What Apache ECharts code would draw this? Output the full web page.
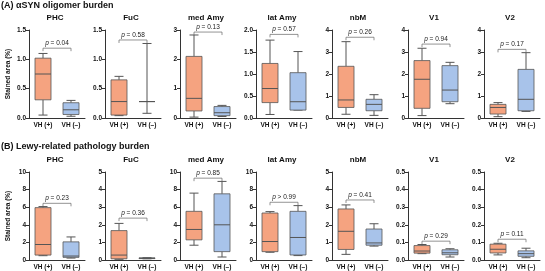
<!DOCTYPE html>
<html>
<head>
<meta charset="utf-8">
<script src="https://cdn.jsdelivr.net/npm/echarts@6/dist/echarts.min.js"></script>
<style>
  html, body { margin: 0; padding: 0; background: #fff; }
  #chart { width: 545px; height: 271px; }
</style>
</head>
<body>
<div id="chart"></div>
<script>
// regions + groups
const regions = ['PHC', 'FuC', 'med Amy', 'lat Amy', 'nbM', 'V1', 'V2'];
const groups = ['VH (+)', 'VH (\u2013)'];

// each box: [min, q1, median, q3, max]
// (A) aSYN oligomer burden
const oligoPos = [
  [0.05, 0.31, 0.75, 1.02, 1.10],
  [0.04, 0.05, 0.28, 0.65, 0.71],
  [0.03, 0.24, 0.67, 2.10, 2.83],
  [0.08, 0.35, 0.67, 1.24, 1.77],
  [0.17, 0.48, 0.82, 2.35, 3.47],
  [0.11, 0.44, 1.76, 2.61, 3.17],
  [0.06, 0.18, 0.48, 0.62, 0.70]
];
const oligoNeg = [
  [0.03, 0.06, 0.14, 0.26, 0.30],
  [0.08, 0.28, 0.28, 0.28, 1.27],
  [0.05, 0.08, 0.18, 0.39, 0.43],
  [0.18, 0.18, 0.37, 1.03, 1.51],
  [0.12, 0.33, 0.62, 0.85, 1.06],
  [0.65, 0.74, 1.27, 2.38, 2.53],
  [0.30, 0.33, 0.85, 2.21, 2.97]
];
const oligoMax = [1.5, 1.5, 3, 2, 4, 4, 4];
const oligoStep = [0.5, 0.5, 1, 0.5, 1, 1, 1];
const oligoBracket = [1.19, 1.33, 2.93, 1.90, 3.67, 3.36, 3.12];
const oligoP = ['= 0.04', '= 0.58', '= 0.13', '= 0.57', '= 0.26', '= 0.94', '= 0.17'];

// (B) Lewy-related pathology burden
const lewyPos = [
  [0.49, 0.56, 1.76, 5.95, 6.07],
  [0.04, 0.07, 0.28, 1.67, 2.08],
  [1.68, 2.29, 3.47, 5.53, 7.60],
  [0.88, 0.95, 2.10, 5.34, 5.50],
  [0.32, 0.60, 1.63, 2.90, 3.13],
  [0.036, 0.039, 0.051, 0.082, 0.088],
  [0.029, 0.040, 0.061, 0.090, 0.095]
];
const lewyNeg = [
  [0.22, 0.30, 0.45, 2.06, 2.62],
  [0.07, 0.08, 0.10, 0.12, 0.13],
  [0.34, 0.95, 4.00, 7.52, 8.93],
  [0.50, 0.57, 2.56, 5.53, 6.18],
  [0.79, 0.84, 0.97, 1.76, 2.06],
  [0.017, 0.030, 0.041, 0.058, 0.064],
  [0.013, 0.021, 0.036, 0.052, 0.067]
];
const lewyMax = [10, 5, 10, 10, 5, 0.5, 0.5];
const lewyStep = [2, 1, 2, 2, 1, 0.1, 0.1];
const lewyBracket = [6.44, 2.38, 9.3, 6.56, 3.41, 0.107, 0.118];
const lewyP = ['= 0.23', '= 0.36', '= 0.85', '> 0.99', '= 0.41', '= 0.29', '= 0.11'];

const FONT = 'Liberation Sans, Arial, sans-serif';
const ORANGE = '#f5a380';
const BLUE = '#a8c3ea';
const EDGE = '#555';
const AXIS = '#333';

const lefts = [29, 105, 180, 256, 332, 408, 484];
const gridW = 56;
const rows = [
  { top: 30, height: 88, name: '(A) \u03b1SYN oligomer burden', titleTop: 1, panelTop: 14,
    pos: oligoPos, neg: oligoNeg, max: oligoMax, step: oligoStep, bracket: oligoBracket, p: oligoP },
  { top: 172, height: 89, name: '(B) Lewy-related pathology burden', titleTop: 142, panelTop: 156,
    pos: lewyPos, neg: lewyNeg, max: lewyMax, step: lewyStep, bracket: lewyBracket, p: lewyP }
];

function renderBox(params, api) {
  var cat = api.value(0);
  var pMin = api.coord([cat, api.value(1)]);
  var pQ1 = api.coord([cat, api.value(2)]);
  var pMed = api.coord([cat, api.value(3)]);
  var pQ3 = api.coord([cat, api.value(4)]);
  var pMax = api.coord([cat, api.value(5)]);
  var x = pMin[0], hw = 8, cw = 4.5;
  var line = { stroke: EDGE, lineWidth: 1 };
  return {
    type: 'group',
    children: [
      { type: 'line', shape: { x1: x, y1: pMax[1], x2: x, y2: pQ3[1] }, style: line },
      { type: 'line', shape: { x1: x, y1: pQ1[1], x2: x, y2: pMin[1] }, style: line },
      { type: 'line', shape: { x1: x - cw, y1: pMax[1], x2: x + cw, y2: pMax[1] }, style: line },
      { type: 'line', shape: { x1: x - cw, y1: pMin[1], x2: x + cw, y2: pMin[1] }, style: line },
      { type: 'rect', shape: { x: x - hw, y: pQ3[1], width: hw * 2, height: pQ1[1] - pQ3[1] },
        style: { fill: cat === 0 ? ORANGE : BLUE, stroke: EDGE, lineWidth: 0.8 } },
      { type: 'line', shape: { x1: x - hw, y1: pMed[1], x2: x + hw, y2: pMed[1] }, style: line }
    ]
  };
}

function makeBracket(pText) {
  return function (params, api) {
    var y = api.value(1);
    var a = api.coord([0, y]);
    var b = api.coord([1, y]);
    return {
      type: 'group',
      children: [
        { type: 'polyline',
          shape: { points: [[a[0], a[1] + 3], [a[0], a[1]], [b[0], b[1]], [b[0], b[1] + 3]] },
          style: { stroke: '#666', fill: null, lineWidth: 0.7 } },
        { type: 'text', x: (a[0] + b[0]) / 2, y: a[1] - 1.5,
          style: { text: '{i|p} ' + pText, align: 'center', verticalAlign: 'bottom',
            fontSize: 6.5, fontFamily: FONT, fill: '#222',
            rich: { i: { fontStyle: 'italic', fontSize: 6.5, fontFamily: FONT, fill: '#222' } } } }
      ]
    };
  };
}

function getOption() {
  var grid = [], xAxis = [], yAxis = [], series = [], title = [];
  var k = 0;
  rows.forEach(function (row) {
    title.push({ text: row.name, left: 1, top: row.titleTop, padding: 0,
      textStyle: { fontSize: 9, fontWeight: 'bold', color: '#111', fontFamily: FONT } });
    regions.forEach(function (reg, i) {
      grid.push({ left: lefts[i], top: row.top, width: gridW, height: row.height });
      title.push({ text: reg, left: lefts[i] + 26, top: row.panelTop, padding: 0, textAlign: 'center',
        textStyle: { fontSize: 8, fontWeight: 'bold', color: '#111', fontFamily: FONT } });
      xAxis.push({
        gridIndex: k, type: 'category', data: groups,
        axisLine: { lineStyle: { color: AXIS, width: 1 } },
        axisTick: { show: false },
        axisLabel: { interval: 0, margin: 4, fontSize: 6.5, fontWeight: 'bold', color: '#111', fontFamily: FONT }
      });
      var dec = row.step[i] < 1 ? 1 : 0;
      yAxis.push({
        gridIndex: k, type: 'value', min: 0, max: row.max[i], interval: row.step[i],
        name: i === 0 ? 'Stained area (%)' : '',
        nameLocation: 'middle', nameGap: 17,
        nameTextStyle: { fontSize: 6.5, fontWeight: 'bold', color: '#111', fontFamily: FONT },
        axisLine: { show: true, lineStyle: { color: AXIS, width: 1 } },
        axisTick: { show: true, length: 3, lineStyle: { color: AXIS } },
        splitLine: { show: false },
        axisLabel: { margin: 3, fontSize: 6.5, fontWeight: 'bold', color: '#111', fontFamily: FONT,
          formatter: function (v) { return v.toFixed(dec); } }
      });
      series.push({
        type: 'custom', xAxisIndex: k, yAxisIndex: k,
        encode: { x: 0, y: [1, 2, 3, 4, 5] },
        data: [[0].concat(row.pos[i]), [1].concat(row.neg[i])],
        renderItem: renderBox
      });
      series.push({
        type: 'custom', xAxisIndex: k, yAxisIndex: k,
        encode: { x: 0, y: 1 },
        data: [[0, row.bracket[i]]],
        renderItem: makeBracket(row.p[i])
      });
      k++;
    });
  });
  return {
    animation: false,
    backgroundColor: '#fff',
    textStyle: { fontFamily: FONT },
    title: title, grid: grid, xAxis: xAxis, yAxis: yAxis, series: series
  };
}

var chart = echarts.init(document.getElementById('chart'), null, { renderer: 'canvas' });
chart.setOption(getOption());
</script>
</body>
</html>
